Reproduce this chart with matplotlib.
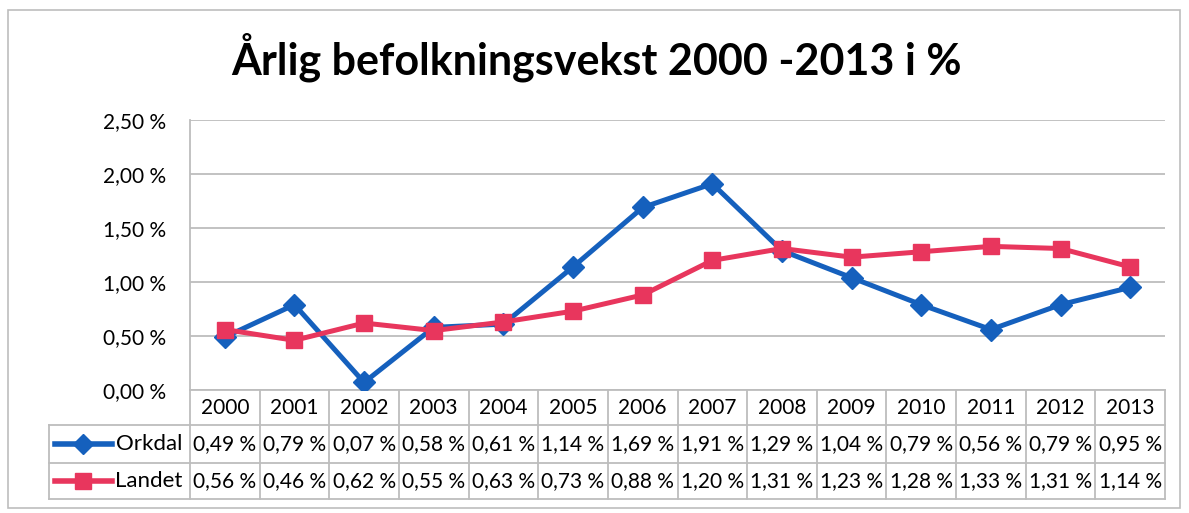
import matplotlib.pyplot as plt
from matplotlib.lines import Line2D
from matplotlib.patches import Rectangle

years = ["2000", "2001", "2002", "2003", "2004", "2005", "2006",
         "2007", "2008", "2009", "2010", "2011", "2012", "2013"]
orkdal = [0.49, 0.79, 0.07, 0.58, 0.61, 1.14, 1.69, 1.91, 1.29, 1.04, 0.79, 0.56, 0.79, 0.95]
landet = [0.56, 0.46, 0.62, 0.55, 0.63, 0.73, 0.88, 1.20, 1.31, 1.23, 1.28, 1.33, 1.31, 1.14]
yticks = [0.0, 0.5, 1.0, 1.5, 2.0, 2.5]

BLUE = "#1560BD"
RED = "#E8365D"
GRID = "#BDBDBD"
FONT = "Lato"

W, H = 1189, 513
fig = plt.figure(figsize=(W / 100, H / 100), dpi=100)

# outer chart frame
fig.patches.append(Rectangle((8 / W, 1 - 508 / H), 1172 / W, 498 / H,
                             transform=fig.transFigure, fill=False,
                             edgecolor="#BDBDBD", linewidth=1.2))

fig.text(596 / W, 1 - 57 / H, "Årlig befolkningsvekst 2000 -2013 i %",
         ha="center", va="center", fontsize=31, fontweight="bold", family=FONT)

# plot area: x 190..1165, y 120..390 px
PL, PR, PT, PB = 190, 1165, 120, 390
ax = fig.add_axes([PL / W, 1 - PB / H, (PR - PL) / W, (PB - PT) / H])
x = list(range(len(years)))
ax.plot(x, orkdal, color=BLUE, linewidth=3.6, marker="D", markersize=11,
        label="Orkdal", zorder=3)
ax.plot(x, landet, color=RED, linewidth=3.6, marker="s", markersize=12,
        label="Landet", zorder=3)

ax.set_xlim(-0.5, len(years) - 0.5)
ax.set_ylim(0, 2.5)
ax.set_yticks(yticks)
ax.set_yticklabels([f"{v:.2f} %".replace(".", ",") for v in yticks],
                   fontsize=15, family=FONT)
ax.tick_params(axis="y", length=0, pad=17)
ax.set_xticks([])
ax.grid(True, axis="y", color=GRID, linewidth=1.3)
ax.set_axisbelow(True)
for s in ["top", "right", "bottom"]:
    ax.spines[s].set_visible(False)
ax.spines["left"].set_color(GRID)
ax.spines["left"].set_linewidth(1.3)

# data table below the plot, in data-x / axes-y coordinates
tr = ax.get_xaxis_transform()
ph = PB - PT
colw = (PR - PL) / len(years)
r0 = 0.0
r1 = -(425 - PB) / ph
r2 = -(463 - PB) / ph
r3 = -(499 - PB) / ph
label_left = -0.5 - (PL - 49) / colw
right = len(years) - 0.5

def hline(y, x0, x1):
    ax.add_line(Line2D([x0, x1], [y, y], transform=tr, color=GRID,
                       linewidth=1.3, clip_on=False))

def vline(xv, y0, y1):
    ax.add_line(Line2D([xv, xv], [y0, y1], transform=tr, color=GRID,
                       linewidth=1.3, clip_on=False))

hline(r0, -0.5, right)
hline(r1, label_left, right)
hline(r2, label_left, right)
hline(r3, label_left, right)
vline(label_left, r3, r1)
for i in range(len(years) + 1):
    vline(i - 0.5, r3, r0)

for i, yr in enumerate(years):
    ax.text(i, (r0 + r1) / 2, yr, transform=tr, ha="center", va="center",
            fontsize=15, family=FONT)
    ax.text(i, (r1 + r2) / 2, f"{orkdal[i]:.2f} %".replace(".", ","),
            transform=tr, ha="center", va="center", fontsize=15, family=FONT)
    ax.text(i, (r2 + r3) / 2, f"{landet[i]:.2f} %".replace(".", ","),
            transform=tr, ha="center", va="center", fontsize=15, family=FONT)

# legend keys in the row label cells
kx0 = -0.5 - (PL - 55) / colw
kx1 = -0.5 - (PL - 112) / colw
for (yc, col, mk, ms, name) in [((r1 + r2) / 2, BLUE, "D", 10, "Orkdal"),
                                ((r2 + r3) / 2, RED, "s", 12, "Landet")]:
    ax.add_line(Line2D([kx0, kx1], [yc, yc], transform=tr, color=col,
                       linewidth=4, clip_on=False))
    ax.add_line(Line2D([(kx0 + kx1) / 2], [yc], transform=tr, color=col,
                       marker=mk, markersize=ms, clip_on=False))
    ax.text(-0.5 - 8 / colw, yc, name, transform=tr, ha="right", va="center",
            fontsize=16, family=FONT)

fig.savefig("out.png", dpi=100)
